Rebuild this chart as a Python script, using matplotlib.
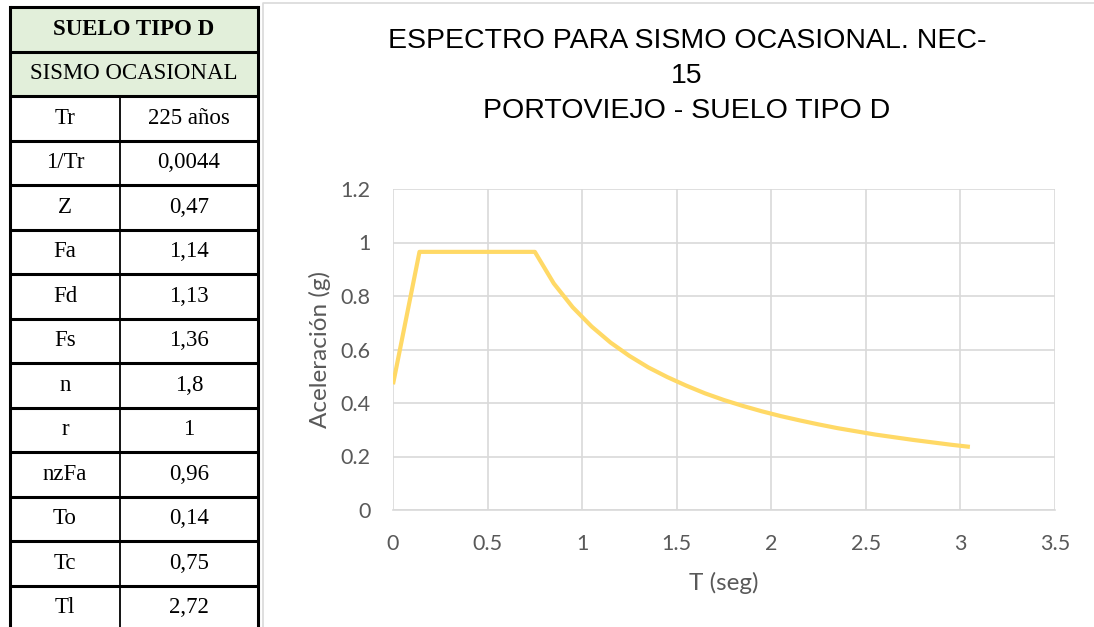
import matplotlib
matplotlib.use("Agg")
import matplotlib.pyplot as plt
from matplotlib.patches import Rectangle

# spectrum (T in s, Sa in g)
periods = [0.0, 0.14, 0.75, 0.85, 0.95, 1.05, 1.15, 1.25, 1.35, 1.45, 1.55,
           1.65, 1.75, 1.85, 1.95, 2.05, 2.15, 2.25, 2.35, 2.45, 2.55,
           2.65, 2.75, 2.85, 2.95, 3.05]
accel = [0.47, 0.965, 0.965, 0.847, 0.758, 0.686, 0.626, 0.576, 0.533, 0.497,
         0.465, 0.436, 0.411, 0.389, 0.369, 0.351, 0.335, 0.320, 0.306,
         0.294, 0.282, 0.272, 0.262, 0.253, 0.244, 0.236]

x_ticks = [0, 0.5, 1, 1.5, 2, 2.5, 3, 3.5]
y_ticks = [0, 0.2, 0.4, 0.6, 0.8, 1, 1.2]

# parameter table
table_title = "SUELO TIPO D"
table_subtitle = "SISMO OCASIONAL"
param_names = ["Tr", "1/Tr", "Z", "Fa", "Fd", "Fs", "n", "r", "nzFa",
               "To", "Tc", "Tl"]
param_values = ["225 años", "0,0044", "0,47", "1,14", "1,13", "1,36", "1,8",
                "1", "0,96", "0,14", "0,75", "2,72"]

W, H = 1094, 627
fig = plt.figure(figsize=(W / 100, H / 100), dpi=100)
fig.patch.set_facecolor("white")

# overlay in pixel coordinates for the table and the chart frame
ov = fig.add_axes([0, 0, 1, 1])
ov.set_xlim(0, W)
ov.set_ylim(H, 0)
ov.axis("off")

# chart area frame
ov.plot([263, 263, W], [H, 3, 3], color="#d9d9d9", lw=1.2)

left, mid, right = 10, 120, 258
top, row_h = 7, 44.5
serif = ["Liberation Serif", "DejaVu Serif"]
rows = len(param_names) + 2
tsize = 16.5

for i in range(2):
    ov.add_patch(Rectangle((left, top + i * row_h), right - left, row_h,
                           facecolor="#e2efda", edgecolor="none"))
ov.text((left + right) / 2, top + 0.5 * row_h, table_title, ha="center",
        va="center", fontsize=tsize, fontweight="bold", family=serif)
ov.text((left + right) / 2, top + 1.5 * row_h, table_subtitle, ha="center",
        va="center", fontsize=tsize, family=serif)
for i, (name, val) in enumerate(zip(param_names, param_values)):
    yc = top + (i + 2.5) * row_h
    ov.text((left + mid) / 2, yc, name, ha="center", va="center",
            fontsize=tsize, family=serif)
    ov.text((mid + right) / 2, yc, val, ha="center", va="center",
            fontsize=tsize, family=serif)

# grid lines of the table
for i in range(rows):
    y = top + i * row_h
    ov.plot([left, right], [y, y], color="black", lw=2.2,
            solid_capstyle="butt")
ov.plot([left, left], [top, H], color="black", lw=2.2)
ov.plot([right, right], [top, H], color="black", lw=2.2)
ov.plot([mid, mid], [top + 2 * row_h, H], color="black", lw=1.3)

# spectrum chart
sans = ["Lato", "DejaVu Sans"]
ax = fig.add_axes([393 / W, 1 - 510 / H, (1055 - 393) / W, (510 - 189) / H])
ax.plot(periods, accel, color="#ffd966", lw=3, solid_joinstyle="round",
        solid_capstyle="butt", zorder=3)
ax.set_xlim(0, 3.5)
ax.set_ylim(0, 1.2)
ax.set_xticks(x_ticks)
ax.set_yticks(y_ticks)
ax.set_xticklabels([f"{v:g}" for v in x_ticks])
ax.set_yticklabels([f"{v:g}" for v in y_ticks])
ax.grid(True, color="#d9d9d9", lw=1.2)
ax.set_axisbelow(True)
for side in ("top", "right", "left"):
    ax.spines[side].set_visible(False)
ax.spines["bottom"].set_color("#d9d9d9")
ax.spines["bottom"].set_linewidth(1.2)
ax.tick_params(length=0, labelsize=15.5, colors="#595959")
ax.tick_params(axis="x", pad=17)
ax.tick_params(axis="y", pad=16)
for lab in ax.get_xticklabels() + ax.get_yticklabels():
    lab.set_family(sans)
ax.set_xlabel("T (seg)", fontsize=17.5, color="#595959", family=sans,
              labelpad=13)
ax.set_ylabel("Aceleración (g)", fontsize=17.5, color="#595959",
              family=sans, labelpad=7)

fig.text(687 / W, 1 - 76 / H,
         "ESPECTRO PARA SISMO OCASIONAL. NEC-\n15\nPORTOVIEJO - SUELO TIPO D",
         ha="center", va="center", fontsize=20.5, color="black",
         family=["Liberation Sans", "DejaVu Sans"], linespacing=1.45)

fig.savefig("out.png", dpi=100)
